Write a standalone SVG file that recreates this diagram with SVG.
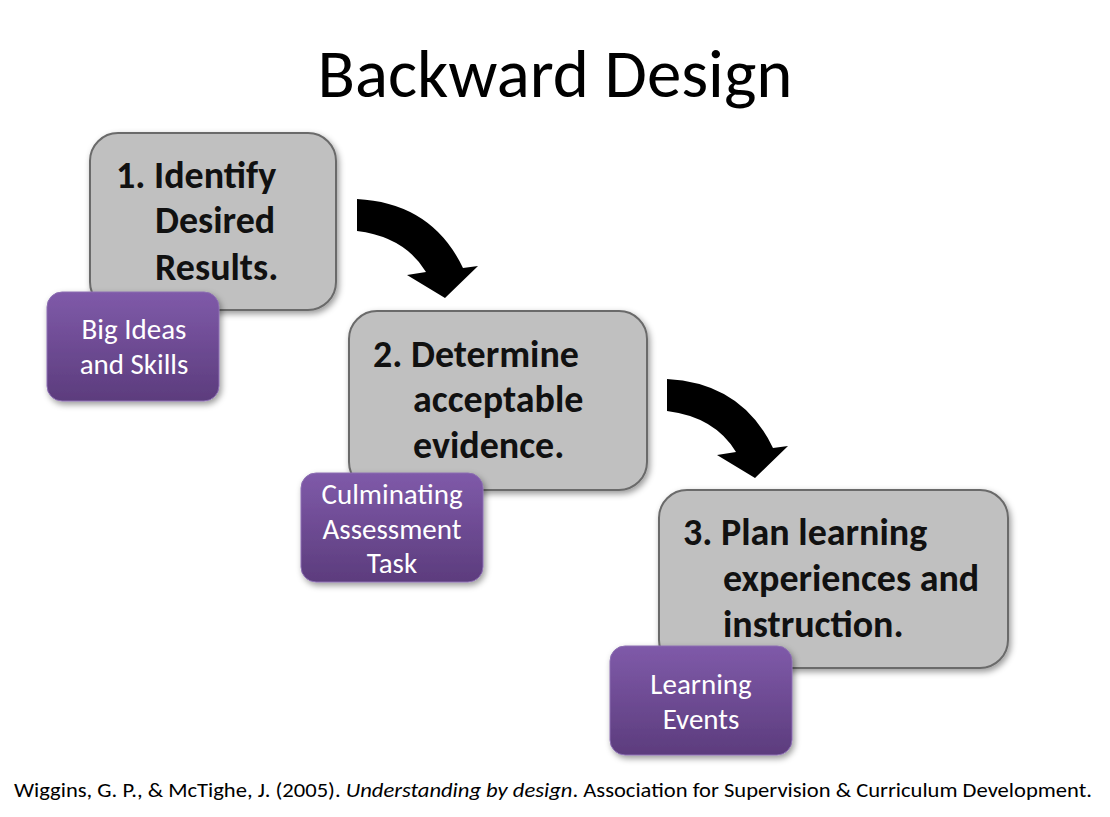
<svg xmlns="http://www.w3.org/2000/svg" width="1110" height="817" viewBox="0 0 1110 817">
<defs>
<style>
.t{font-family:Carlito,Lato,"Open Sans",sans-serif}
.box{fill:#c0c0c0;stroke:#6a6a6a;stroke-width:2}
.bt{font-family:Carlito,Lato,"Open Sans",sans-serif;font-weight:bold;font-size:38px;fill:#111}
.pb{fill:url(#pg);stroke:#8c6fb2;stroke-width:1}
.pt{font-family:Carlito,Lato,"Open Sans",sans-serif;font-size:29px;fill:#fff;text-anchor:middle}
.arr{fill:#000}
</style>
<linearGradient id="pg" x1="0" y1="0" x2="0" y2="1">
<stop offset="0" stop-color="#7f5aa9"/>
<stop offset="1" stop-color="#5c3c7d"/>
</linearGradient>
<filter id="sh" x="-10%" y="-10%" width="130%" height="130%">
<feDropShadow dx="2" dy="3" stdDeviation="3" flood-color="#000" flood-opacity="0.4"/>
</filter>
</defs>
<rect width="1110" height="817" fill="#fff"/>
<text class="t" x="555" y="97" font-size="68" text-anchor="middle" textLength="475" lengthAdjust="spacingAndGlyphs" fill="#000">Backward Design</text>
<g id="connectors">
<path class="arr" d="M357 199 Q432 203 463 268 L478 266 L445 298 L407 275 L426 272 Q405 237 357 231 Z"/>
<path class="arr" d="M667 379 Q742 383 773 448 L788 446 L755 478 L717 455 L736 452 Q715 417 667 411 Z"/>
</g>
<g id="step1">
<rect class="box" x="90" y="133" width="246" height="177" rx="28" filter="url(#sh)"/>
<text class="bt" x="116" y="188">1. Identify</text>
<text class="bt" x="155" y="233">Desired</text>
<text class="bt" x="155" y="280">Results.</text>
</g>
<g id="step2">
<rect class="box" x="349" y="311" width="298" height="179" rx="28" filter="url(#sh)"/>
<text class="bt" x="373" y="367">2. Determine</text>
<text class="bt" x="413" y="412">acceptable</text>
<text class="bt" x="413" y="458">evidence.</text>
</g>
<g id="step3">
<rect class="box" x="659" y="490" width="349" height="178" rx="28" filter="url(#sh)"/>
<text class="bt" x="683" y="545">3. Plan learning</text>
<text class="bt" x="723" y="591">experiences and</text>
<text class="bt" x="723" y="637">instruction.</text>
</g>
<g id="note1">
<rect class="pb" x="47" y="292" width="172" height="109" rx="15" filter="url(#sh)"/>
<text class="pt" x="134" y="339">Big Ideas</text>
<text class="pt" x="134" y="374">and Skills</text>
</g>
<g id="note2">
<rect class="pb" x="301" y="473" width="182" height="109" rx="15" filter="url(#sh)"/>
<text class="pt" x="392" y="504">Culminating</text>
<text class="pt" x="392" y="539">Assessment</text>
<text class="pt" x="392" y="573">Task</text>
</g>
<g id="note3">
<rect class="pb" x="610" y="646" width="182" height="109" rx="15" filter="url(#sh)"/>
<text class="pt" x="701" y="694">Learning</text>
<text class="pt" x="701" y="729">Events</text>
</g>
<text class="t" x="14" y="797" font-size="20" fill="#000" textLength="1078" lengthAdjust="spacingAndGlyphs">Wiggins, G. P., &amp; McTighe, J. (2005). <tspan font-style="italic">Understanding by design</tspan>. Association for Supervision &amp; Curriculum Development.</text>
</svg>
